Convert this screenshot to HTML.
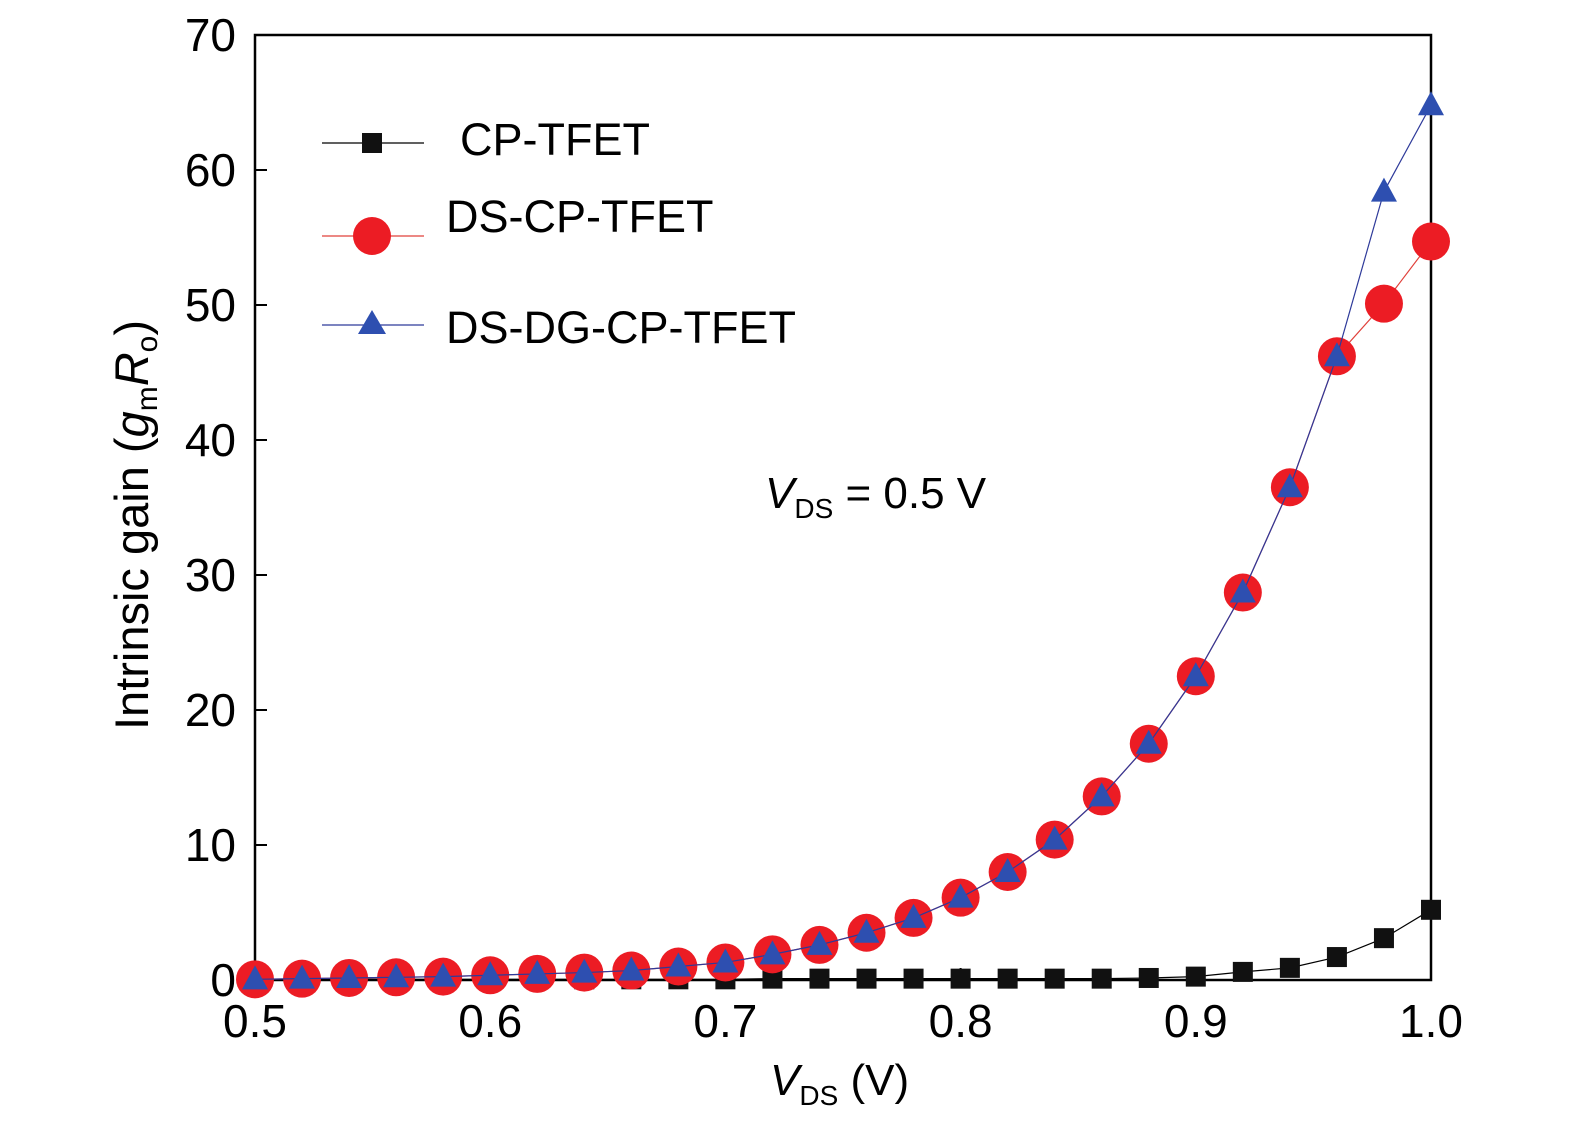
<!DOCTYPE html>
<html><head><meta charset="utf-8"><style>
body{margin:0;background:#fff;}
svg{display:block;font-family:"Liberation Sans",sans-serif;}
</style></head><body>
<svg id="chart" width="1575" height="1133">
<rect x="255" y="35" width="1176" height="945" fill="none" stroke="#000" stroke-width="2.5"/>
<g id="axes"></g>
<g id="series"></g>
<text x="0" y="0" font-size="47" transform="translate(148,730) rotate(-90)">Intrinsic gain (<tspan font-style="italic">g</tspan><tspan font-size="30" dy="9">m</tspan><tspan font-style="italic" dy="-9">R</tspan><tspan font-size="30" dy="9">o</tspan><tspan dy="-9">)</tspan></text>
<text x="770" y="1095" font-size="44"><tspan font-style="italic">V</tspan><tspan font-size="28" dy="10">DS</tspan><tspan dy="-10"> (V)</tspan></text>
<text x="765" y="508" font-size="44"><tspan font-style="italic">V</tspan><tspan font-size="28" dy="10">DS</tspan><tspan dy="-10"> = 0.5 V</tspan></text>
<g>
<line x1="322" y1="143" x2="424" y2="143" stroke="#000" stroke-width="1.2"/>
<rect x="362" y="133" width="20" height="20" fill="#111"/>
<text x="460" y="155" font-size="45">CP-TFET</text>
<line x1="322" y1="236" x2="424" y2="236" stroke="#e0403a" stroke-width="1.2"/>
<circle cx="372" cy="236" r="19" fill="#ec1c24"/>
<text x="446" y="232" font-size="45">DS-CP-TFET</text>
<line x1="322" y1="325" x2="424" y2="325" stroke="#2e3a9a" stroke-width="1.2"/>
<polygon points="372,310 358,334 386,334" fill="#2e4fb0"/>
<text x="446" y="343" font-size="45">DS-DG-CP-TFET</text>
</g>
</svg>
<script>
const xs=[0.5,0.52,0.54,0.56,0.58,0.6,0.62,0.64,0.66,0.68,0.7,0.72,0.74,0.76,0.78,0.8,0.82,0.84,0.86,0.88,0.9,0.92,0.94,0.96,0.98,1.0];
const cpTfet=[0.05,0.05,0.05,0.05,0.05,0.05,0.05,0.05,0.05,0.05,0.05,0.1,0.1,0.1,0.1,0.1,0.1,0.1,0.1,0.15,0.25,0.6,0.9,1.7,3.1,5.2];
const dsCp=[0.05,0.1,0.15,0.2,0.25,0.35,0.45,0.55,0.7,1.0,1.3,1.9,2.6,3.5,4.6,6.1,8.0,10.4,13.6,17.5,22.5,28.7,36.5,46.2,50.1,54.7];
const dsDg=[0.05,0.1,0.15,0.2,0.25,0.35,0.45,0.55,0.7,1.0,1.3,1.9,2.6,3.5,4.6,6.1,8.0,10.4,13.6,17.5,22.5,28.7,36.5,46.2,58.4,64.8];
const xTicks=["0.5","0.6","0.7","0.8","0.9","1.0"];
const yTicks=[0,10,20,30,40,50,60,70];
const X=v=>255+(v-0.5)/0.5*1176, Y=v=>980-v/70*945;
const NS="http://www.w3.org/2000/svg";
const ax=document.getElementById('axes'), sg=document.getElementById('series');
function mk(t,a,p){const e=document.createElementNS(NS,t);for(const k in a)e.setAttribute(k,a[k]);p.appendChild(e);return e;}
xTicks.forEach(t=>{const x=X(+t);
 const l=mk('line',{x1:x,y1:980,x2:x,y2:968,stroke:'#000','stroke-width':2},ax);
 
 
 const tx=mk('text',{x:x,y:1037,'font-size':46,'text-anchor':'middle'},ax);tx.textContent=t;
 
 });
yTicks.forEach(t=>{const y=Y(t);
 const l=mk('line',{x1:255,y1:y,x2:267,y2:y,stroke:'#000','stroke-width':2},ax);
 
 
 const tx=mk('text',{x:236,y:y+16,'font-size':46,'text-anchor':'end'},ax);tx.textContent=t;
 
 });
function line(vals,col,name){const p=mk('polyline',{points:xs.map((x,i)=>X(x)+','+Y(vals[i])).join(' '),fill:'none',stroke:col,'stroke-width':1.2},sg);
 
 }
line(cpTfet,'#000','cp-tfet-line');
xs.forEach((x,i)=>{const r=mk('rect',{x:X(x)-10,y:Y(cpTfet[i])-10,width:20,height:20,fill:'#111'},sg);
 
 });
line(dsCp,'#e0403a','ds-cp-tfet-line');
xs.forEach((x,i)=>{const c=mk('circle',{cx:X(x),cy:Y(dsCp[i]),r:19,fill:'#ec1c24'},sg);
 
 });
line(dsDg,'#2e3a9a','ds-dg-cp-tfet-line');
xs.forEach((x,i)=>{const cx=X(x),cy=Y(dsDg[i]);
 const p=mk('polygon',{points:`${cx},${cy-14} ${cx-13},${cy+10} ${cx+13},${cy+10}`,fill:'#2e4fb0'},sg);
 
 });
</script>
</body></html>
